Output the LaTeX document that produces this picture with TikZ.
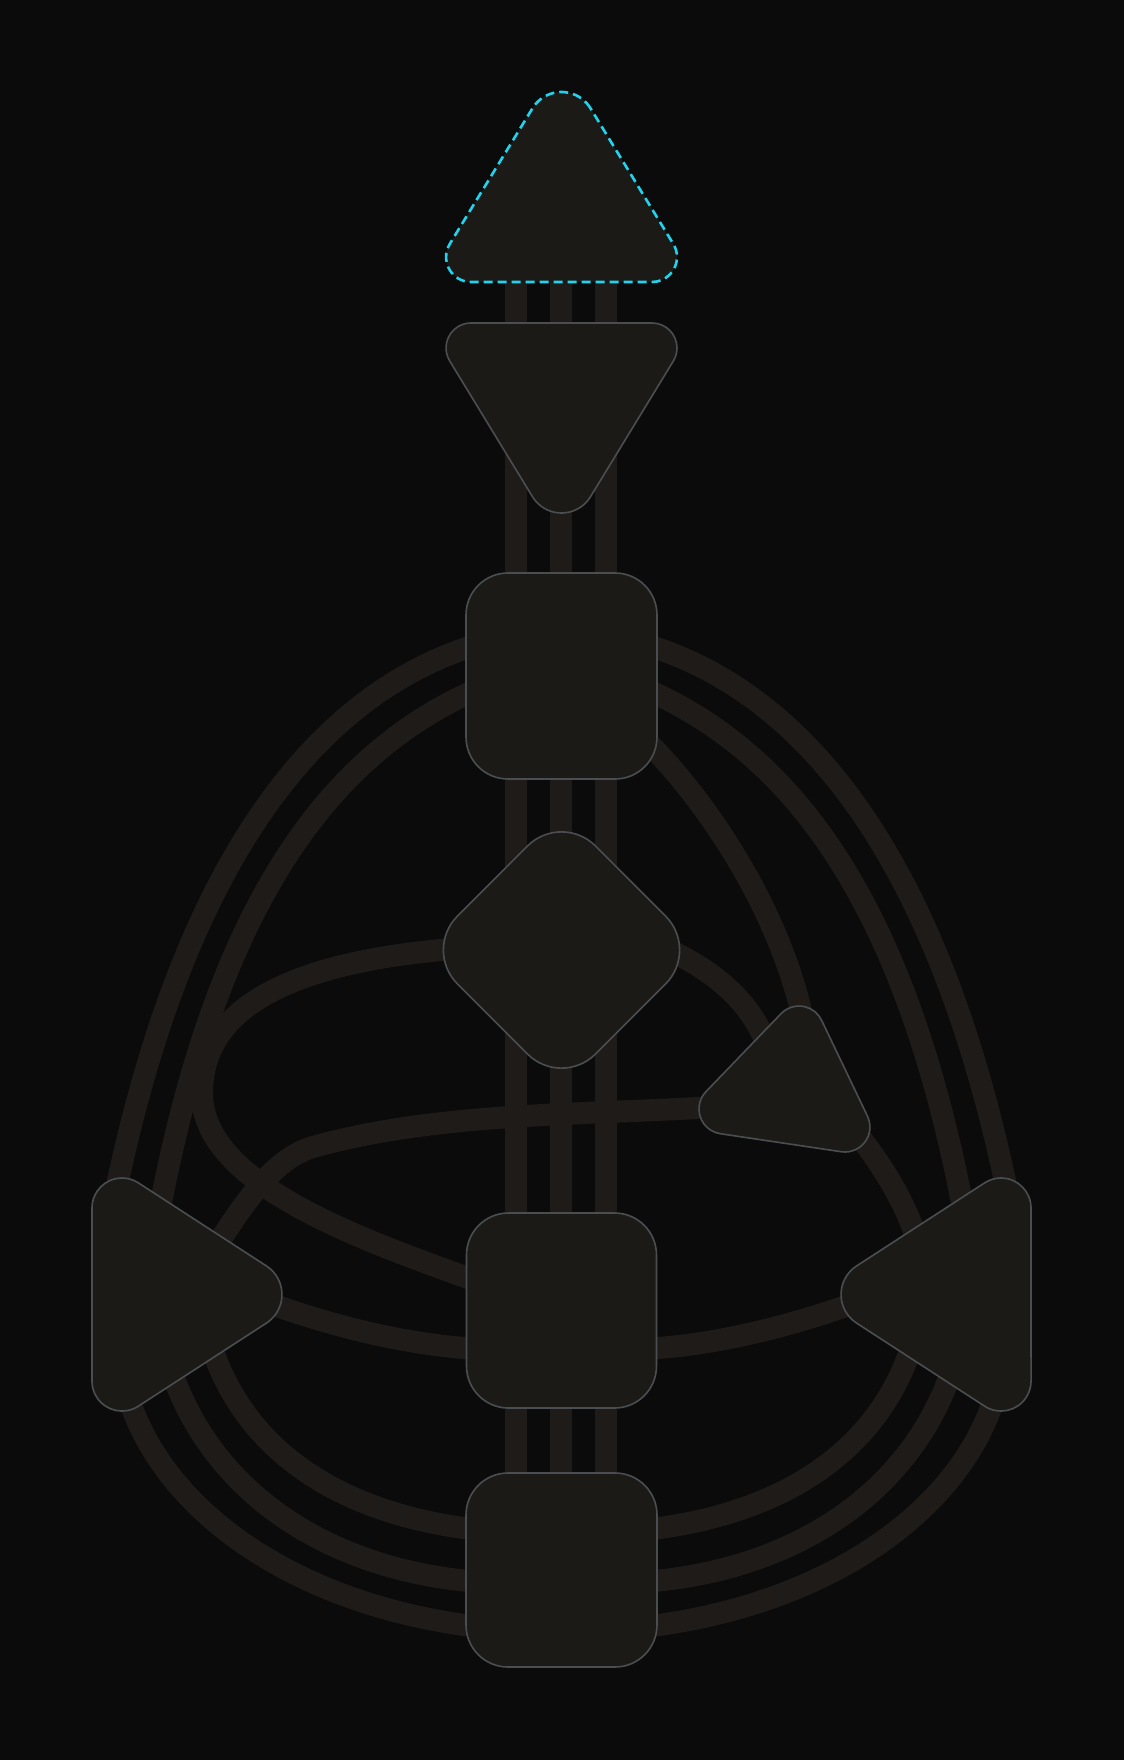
\documentclass[tikz,border=0pt]{standalone}
\usepackage{tikz}
\definecolor{bgcol}{HTML}{0B0B0C}
\definecolor{chancol}{HTML}{1F1B18}
\definecolor{fillcol}{HTML}{1B1A17}
\definecolor{linecol}{HTML}{4B4E51}
\definecolor{headcol}{HTML}{22D3EE}

\begin{document}
\begin{tikzpicture}[x=1pt,y=-1pt,
  channel/.style={draw=chancol,line width=22pt},
  hdcenter/.style={fill=fillcol,draw=linecol,line width=1.6pt}]
\fill[bgcol] (0,0) rectangle (1124,1760);
\useasboundingbox (0,0) rectangle (1124,1760);
\coordinate (hd) at (561,220);
\coordinate (rt) at (561,1560);
\foreach \dx in {-45,0,45}
  \draw[channel] ([xshift=\dx pt]hd) -- ([xshift=\dx pt]rt);
\coordinate (thr-ol) at (486,642);
\coordinate (thr-il) at (485,686);
\coordinate (thr-or) at (637,642);
\coordinate (thr-ir) at (638,686);
\coordinate (thr-h) at (635,730);
\coordinate (spl-o) at (114,1200);
\coordinate (spl-i) at (157,1224);
\coordinate (spl-h) at (215,1248);
\coordinate (spl-s) at (260,1300);
\coordinate (sp-o) at (1009,1200);
\coordinate (sp-i) at (966,1224);
\coordinate (sp-h) at (922,1262);
\coordinate (sp-s) at (863,1300);
\coordinate (g-l) at (465,948);
\coordinate (g-r) at (660,946);
\coordinate (g-bend) at (202,1093);
\coordinate (hrt-t) at (805,1030);
\coordinate (hrt-g) at (772,1062);
\coordinate (hrt-l) at (715,1107);
\coordinate (hrt-bend) at (313,1147);
\coordinate (hrt-r) at (850,1125);
\coordinate (sac-g) at (488,1285);
\coordinate (sac-l) at (480,1349);
\coordinate (sac-r) at (643,1349);
\draw[channel] (thr-ol) .. controls (295,695) and (175,900) .. (spl-o);
\draw[channel] (thr-il) .. controls (330,750) and (215,905) .. (spl-i);
\draw[channel] (thr-or) .. controls (828,695) and (948,900) .. (sp-o);
\draw[channel] (thr-ir) .. controls (793,750) and (908,905) .. (sp-i);
\draw[channel] (thr-h) .. controls (710,800) and (785,920) .. (hrt-t);
\draw[channel] (g-r) .. controls (720,972) and (760,1010) .. (hrt-g);
\draw[channel] (g-l) .. controls (300,960) and (202,1003) .. (g-bend)
  .. controls (202,1183) and (355,1238) .. (sac-g);
\draw[channel] (hrt-l) .. controls (585,1115) and (438,1112) .. (hrt-bend)
  .. controls (270,1159) and (237,1215) .. (spl-h);
\draw[channel] (hrt-r) .. controls (880,1160) and (915,1215) .. (sp-h);
\draw[channel] (spl-s) .. controls (320,1322) and (400,1345) .. (sac-l);
\draw[channel] (sp-s) .. controls (803,1322) and (723,1345) .. (sac-r);
\coordinate (spl-r1) at (208,1335);
\coordinate (spl-r2) at (168,1360);
\coordinate (spl-r3) at (125,1385);
\coordinate (sp-r1) at (915,1335);
\coordinate (sp-r2) at (955,1360);
\coordinate (sp-r3) at (998,1385);
\coordinate (rt-l1) at (480,1530);
\coordinate (rt-l2) at (480,1582);
\coordinate (rt-l3) at (480,1627);
\coordinate (rt-r1) at (643,1530);
\coordinate (rt-r2) at (643,1582);
\coordinate (rt-r3) at (643,1627);
\draw[channel] (spl-r1) .. controls (240,1450) and (340,1515) .. (rt-l1);
\draw[channel] (spl-r2) .. controls (205,1485) and (320,1570) .. (rt-l2);
\draw[channel] (spl-r3) .. controls (155,1505) and (290,1605) .. (rt-l3);
\draw[channel] (sp-r1) .. controls (883,1450) and (783,1515) .. (rt-r1);
\draw[channel] (sp-r2) .. controls (918,1485) and (803,1570) .. (rt-r2);
\draw[channel] (sp-r3) .. controls (968,1505) and (833,1605) .. (rt-r3);
\draw[hdcenter,draw=headcol,line width=2.6pt,dash pattern=on 9pt off 5pt]
  (590.5,108.3) arc[start angle=-31.4,end angle=-148.6,radius=34]
  -- (449.7,244) arc[start angle=211.4,end angle=90,radius=25]
  -- (652,282) arc[start angle=90,end angle=-31.4,radius=25] -- cycle;
\draw[hdcenter]
  (590.5,496.7) arc[start angle=31.4,end angle=148.6,radius=34]
  -- (449.7,361) arc[start angle=-211.4,end angle=-90,radius=25]
  -- (652,323) arc[start angle=-90,end angle=31.4,radius=25] -- cycle;
\draw[hdcenter,rounded corners=42pt] (466,573) rectangle (657,779);
\draw[hdcenter,rounded corners=48pt] (561.5,812) -- (699.5,950) -- (561.5,1088) -- (423.5,950) -- cycle;
\draw[hdcenter]
  (781,1013.7) arc[start angle=223.88,end angle=334.4,radius=25]
  -- (867.5,1116.2) arc[start angle=-25.6,end angle=98.46,radius=25]
  -- (720.3,1133.7) arc[start angle=98.46,end angle=223.88,radius=25] -- cycle;
\draw[hdcenter]
  (92,1208) arc[start angle=180,end angle=303,radius=30]
  -- (266.5,1266) arc[start angle=-57,end angle=57,radius=34]
  -- (138.3,1406.2) arc[start angle=57,end angle=180,radius=30] -- cycle;
\draw[hdcenter]
  (1031,1208) arc[start angle=0,end angle=-123,radius=30]
  -- (856.5,1266) arc[start angle=237,end angle=123,radius=34]
  -- (984.7,1406.2) arc[start angle=123,end angle=0,radius=30] -- cycle;
\draw[hdcenter,rounded corners=42pt] (466.5,1213) rectangle (656.5,1408);
\draw[hdcenter,rounded corners=42pt] (466,1473) rectangle (657,1667);
\end{tikzpicture}
\end{document}
